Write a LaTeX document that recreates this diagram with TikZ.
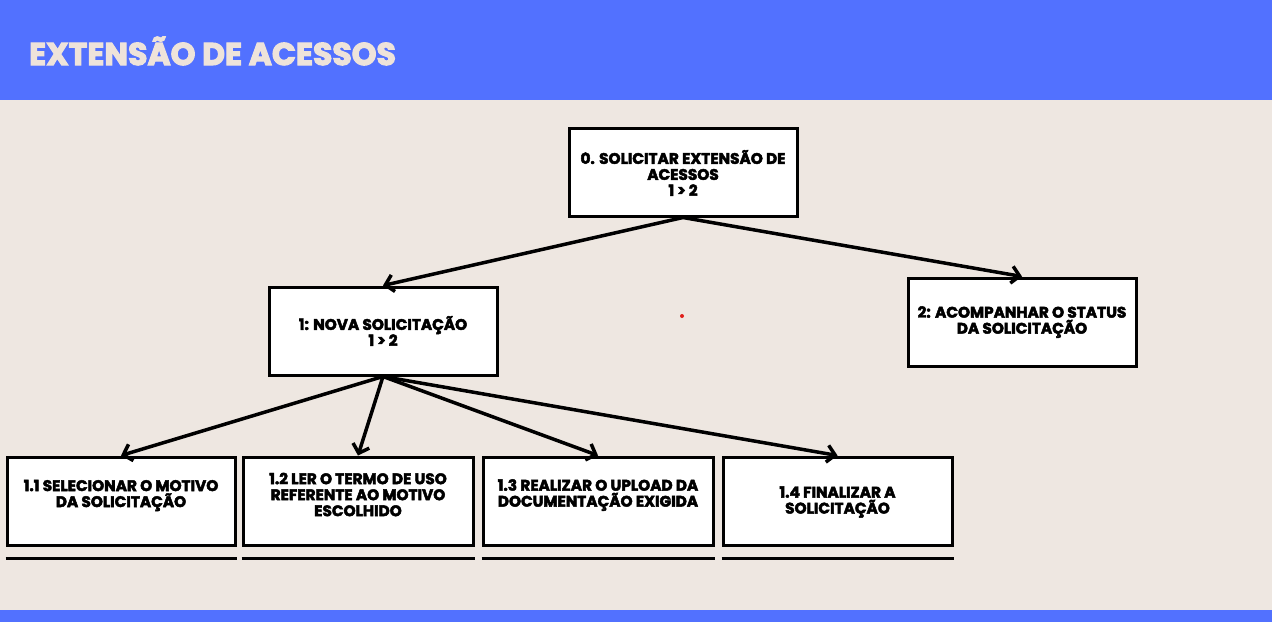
\documentclass[tikz,border=0pt]{standalone}
\usepackage{fontspec}
\setmainfont{Poppins}[BoldFeatures={FakeBold=3}]
\newfontfamily\titlefont{Poppins}[FakeBold=3.5]
\usetikzlibrary{arrows.meta}
\definecolor{hdrblue}{HTML}{5271FF}
\definecolor{bgbeige}{HTML}{EEE7E1}
\definecolor{titlebeige}{HTML}{EEE3DA}
\definecolor{dotred}{HTML}{E0201B}
\tikzset{
  box/.style={draw=black, fill=white, line width=3pt, minimum width=228pt, minimum height=88pt, inner sep=0pt},
  lbl/.style={align=center, font=\bfseries\fontsize{15.3}{16}\selectfont, text=black, inner sep=0pt},
  conn/.style={line width=3.5pt, -{Straight Barb[length=8pt,width=17pt,line width=3.5pt]}},
  underline/.style={line width=3pt}
}
\begin{document}
\begin{tikzpicture}[x=1pt,y=-1pt]
\useasboundingbox (0,0) rectangle (1272,622);
\fill[bgbeige] (0,0) rectangle (1272,622);
\fill[hdrblue] (0,0) rectangle (1272,100);
\fill[hdrblue] (0,610) rectangle (1272,622);
\node[anchor=west, text=titlebeige, inner sep=0pt, font=\titlefont\bfseries\fontsize{31.5}{36}\selectfont] (title) at (29,51) {EXTENSÃO DE ACESSOS};
\fill[dotred] (682,316) circle (2pt);

% boxes
\node[box] (b0) at (683,172) {};
\node[box] (b1) at (383,331) {};
\node[box] (b2) at (1022,322) {};
\node[box] (b11) at (121,501) {};
\node[box, minimum width=230pt] (b12) at (358,501) {};
\node[box, minimum width=230pt] (b13) at (598,501) {};
\node[box, minimum width=229pt] (b14) at (837.5,501) {};

% labels
\node[lbl] (t0) at (683,173) {0. SOLICITAR EXTENSÃO DE\\ACESSOS\\1 > 2};
\node[lbl] (t1) at (383,331) {1: NOVA SOLICITAÇÃO\\1 > 2};
\node[lbl] (t2) at (1022,322) {2: ACOMPANHAR O STATUS\\DA SOLICITAÇÃO};
\node[lbl] (t11) at (121,495.5) {1.1 SELECIONAR O MOTIVO\\DA SOLICITAÇÃO};
\node[lbl] (t12) at (358,494.5) {1.2 LER O TERMO DE USO\\REFERENTE AO MOTIVO\\ESCOLHIDO};
\node[lbl] (t13) at (598,495) {1.3 REALIZAR O UPLOAD DA\\DOCUMENTAÇÃO EXIGIDA};
\node[lbl] (t14) at (837.5,502) {1.4 FINALIZAR A\\SOLICITAÇÃO};

% underlines
\foreach \n in {b11,b12,b13,b14}{
  \draw[underline] ([yshift=-12pt]\n.south west) -- ([yshift=-12pt]\n.south east);
}

% connectors
\draw[conn] (b0.south) -- (b1.north);
\draw[conn] (b0.south) -- (b2.north);
\draw[conn] (b1.south) -- (b11.north);
\draw[conn] (b1.south) -- (b12.north);
\draw[conn] (b1.south) -- (b13.north);
\draw[conn] (b1.south) -- (b14.north);
\end{tikzpicture}
\end{document}
